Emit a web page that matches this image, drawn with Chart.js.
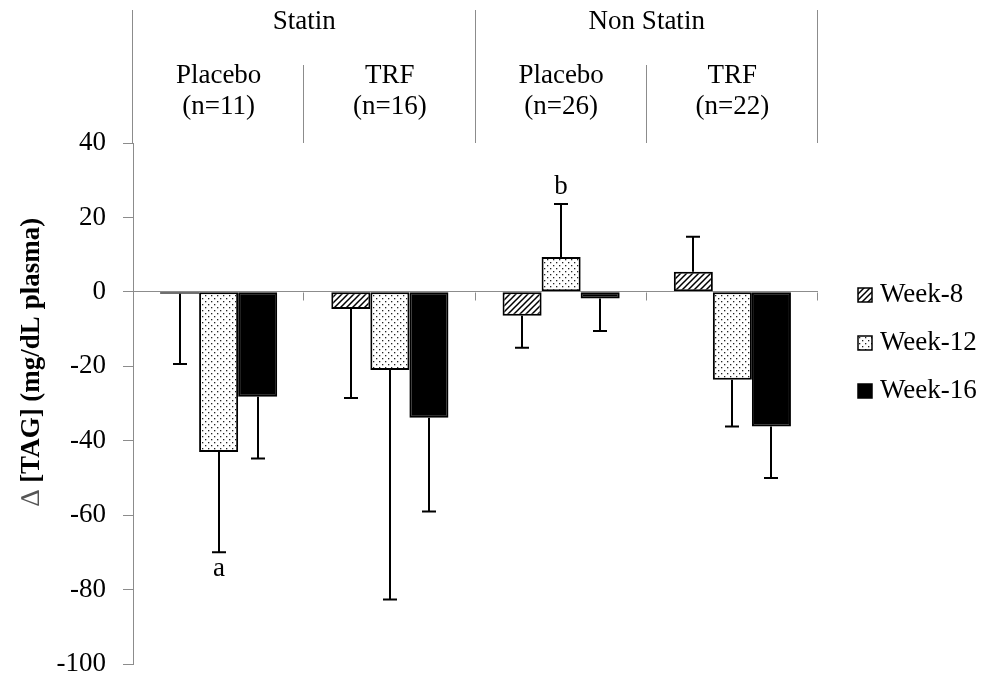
<!DOCTYPE html>
<html>
<head>
<meta charset="utf-8">
<script src="https://cdn.jsdelivr.net/npm/chart.js@4.4.1/dist/chart.umd.min.js"></script>
<style>
  html, body { margin: 0; padding: 0; background: #fff; }
  #wrap { width: 990px; height: 677px; }
</style>
</head>
<body>
<div id="wrap"><canvas id="c" width="990" height="677"></canvas></div>
<script>
// ---- data ----
const categories = ['Statin Placebo', 'Statin TRF', 'Non Statin Placebo', 'Non Statin TRF'];
const groupLabels = ['Statin', 'Non Statin'];
const armLabels = ['Placebo', 'TRF', 'Placebo', 'TRF'];
const nLabels = ['(n=11)', '(n=16)', '(n=26)', '(n=22)'];
const seriesNames = ['Week-8', 'Week-12', 'Week-16'];
const week8 = [-0.5, -4.6, -6.4, 5.4];
const week12 = [-43, -21, 9.4, -23.6];
const week16 = [-28.2, -33.8, -1.8, -36.2];
const week8Err = [18.9, 23.9, 8.6, 9.4];
const week12Err = [27, 61.7, 14.2, 12.6];
const week16Err = [16.6, 25.2, 8.7, 13.8];
const week8Marks = ['', '', '', ''];
const week12Marks = ['a', '', 'b', ''];
const week16Marks = ['', '', '', ''];
const yTicks = [-100, -80, -60, -40, -20, 0, 20, 40];
const yTitleSymbol = '\u2206 ';
const yTitleText = '[TAG] (mg/dL plasma)';

const SERIF = "'Liberation Serif', 'Times New Roman', serif";
const AXIS_GREY = '#8c8c8c';

// ---- patterns ----
function hatchPattern() {
  const c = document.createElement('canvas');
  c.width = 6; c.height = 6;
  const g = c.getContext('2d');
  g.fillStyle = '#fff'; g.fillRect(0, 0, 6, 6);
  g.strokeStyle = '#000'; g.lineWidth = 1.5;
  g.beginPath();
  g.moveTo(-1, 7); g.lineTo(7, -1);
  g.moveTo(-1, 1); g.lineTo(1, -1);
  g.moveTo(5, 7); g.lineTo(7, 5);
  g.stroke();
  return g.createPattern(c, 'repeat');
}
function dotPattern() {
  const c = document.createElement('canvas');
  c.width = 6; c.height = 6;
  const g = c.getContext('2d');
  g.fillStyle = '#fff'; g.fillRect(0, 0, 6, 6);
  g.fillStyle = '#222';
  g.fillRect(1, 1, 1.3, 1.3);
  g.fillRect(4, 4, 1.3, 1.3);
  return g.createPattern(c, 'repeat');
}
const fills = [hatchPattern(), dotPattern(), '#000'];

const values = [week8, week12, week16];
const errs = [week8Err, week12Err, week16Err];
const marks = [week8Marks, week12Marks, week16Marks];

const datasets = seriesNames.map((name, i) => ({
  label: name,
  data: values[i],
  backgroundColor: fills[i],
  borderColor: '#000',
  borderWidth: 2,
  borderSkipped: false
}));

const decor = {
  id: 'decor',
  afterDatasetsDraw(chart) {
    const ctx = chart.ctx;
    const y = chart.scales.y;
    ctx.save();
    ctx.strokeStyle = '#000';
    ctx.lineWidth = 2;
    ctx.fillStyle = '#000';
    ctx.font = '27px ' + SERIF;
    ctx.textAlign = 'center';
    ctx.textBaseline = 'middle';
    chart.data.datasets.forEach((ds, i) => {
      const meta = chart.getDatasetMeta(i);
      meta.data.forEach((bar, j) => {
        const v = values[i][j];
        const dir = v >= 0 ? 1 : -1;
        const endV = v + dir * errs[i][j];
        const yb = bar.y;
        const ye = y.getPixelForValue(endV);
        const x = Math.round(bar.x);
        ctx.beginPath();
        ctx.moveTo(x, yb);
        ctx.lineTo(x, ye);
        ctx.moveTo(x - 7, ye);
        ctx.lineTo(x + 7, ye);
        ctx.stroke();
        const m = marks[i][j];
        if (m) {
          ctx.fillText(m, x, ye - dir * 17);
        }
      });
    });
    ctx.restore();
  },
  afterDraw(chart) {
    const ctx = chart.ctx;
    const area = chart.chartArea;
    const xs = chart.scales.x;
    const ys = chart.scales.y;
    const n = categories.length;
    const cw = area.width / n;
    const y0 = Math.round(ys.getPixelForValue(0)) + 0.5;
    ctx.save();
    ctx.strokeStyle = AXIS_GREY;
    ctx.lineWidth = 1;
    // header separators
    for (let i = 0; i <= n; i++) {
      const bx = Math.round(i === n ? area.right : xs.getPixelForValue(i) - cw / 2) - 0.5;
      const top = (i % 2 === 0) ? 10 : 65;
      ctx.beginPath();
      ctx.moveTo(bx, top);
      ctx.lineTo(bx, area.top);
      ctx.stroke();
      if (i > 0) {
        ctx.beginPath();
        ctx.moveTo(bx, y0);
        ctx.lineTo(bx, y0 + 8);
        ctx.stroke();
      }
    }
    // header texts
    ctx.fillStyle = '#000';
    ctx.font = '27px ' + SERIF;
    ctx.textAlign = 'center';
    ctx.textBaseline = 'middle';
    groupLabels.forEach((g, k) => {
      const cx = (xs.getPixelForValue(2 * k) + xs.getPixelForValue(2 * k + 1)) / 2;
      ctx.fillText(g, cx, 22);
    });
    armLabels.forEach((a, k) => {
      const cx = xs.getPixelForValue(k);
      ctx.fillText(a, cx, 76);
      ctx.fillText(nLabels[k], cx, 107);
    });
    // legend
    ctx.textAlign = 'left';
    seriesNames.forEach((s, i) => {
      const cy = 295 + i * 48;
      ctx.fillStyle = fills[i];
      ctx.fillRect(858, cy - 7, 14, 14);
      ctx.strokeStyle = '#000';
      ctx.lineWidth = 1.5;
      ctx.strokeRect(858, cy - 7, 14, 14);
      ctx.fillStyle = '#000';
      ctx.fillText(s, 880, cy);
    });
    // y title (symbol in regular weight, text in bold)
    ctx.save();
    ctx.translate(32, 362);
    ctx.rotate(-Math.PI / 2);
    ctx.textAlign = 'left';
    ctx.textBaseline = 'middle';
    ctx.font = '27px ' + SERIF;
    const w1 = ctx.measureText(yTitleSymbol).width;
    ctx.font = 'bold 27px ' + SERIF;
    const w2 = ctx.measureText(yTitleText).width;
    const start = -(w1 + w2) / 2;
    ctx.font = '27px ' + SERIF;
    ctx.fillStyle = '#555';
    ctx.fillText(yTitleSymbol, start, 0);
    ctx.fillStyle = '#000';
    ctx.font = 'bold 27px ' + SERIF;
    ctx.fillText(yTitleText, start + w1, 0);
    ctx.restore();
    ctx.restore();
  }
};

new Chart(document.getElementById('c'), {
  type: 'bar',
  data: { labels: categories, datasets },
  options: {
    responsive: false,
    animation: false,
    devicePixelRatio: 1,
    layout: { padding: { left: 0, right: 172, top: 143, bottom: 13 } },
    plugins: { legend: { display: false }, tooltip: { enabled: false } },
    datasets: { bar: { categoryPercentage: 0.684, barPercentage: 1 } },
    scales: {
      x: { display: false, offset: true },
      y: {
        min: -100, max: 40,
        afterFit(scale) {
          scale.width = 133;
          scale.paddingTop = 0;
          scale.paddingBottom = 0;
        },
        afterBuildTicks(scale) { scale.ticks = yTicks.map(v => ({ value: v })); },
        border: { display: true, color: AXIS_GREY, width: 1 },
        grid: {
          color: c => (c.tick && c.tick.value === 0) ? AXIS_GREY : 'rgba(0,0,0,0)',
          tickColor: AXIS_GREY,
          tickLength: 10,
          drawTicks: true
        },
        ticks: {
          padding: 17,
          color: '#000',
          font: { family: SERIF, size: 27, lineHeight: 1 }
        }
      }
    }
  },
  plugins: [decor]
});
</script>
</body>
</html>
